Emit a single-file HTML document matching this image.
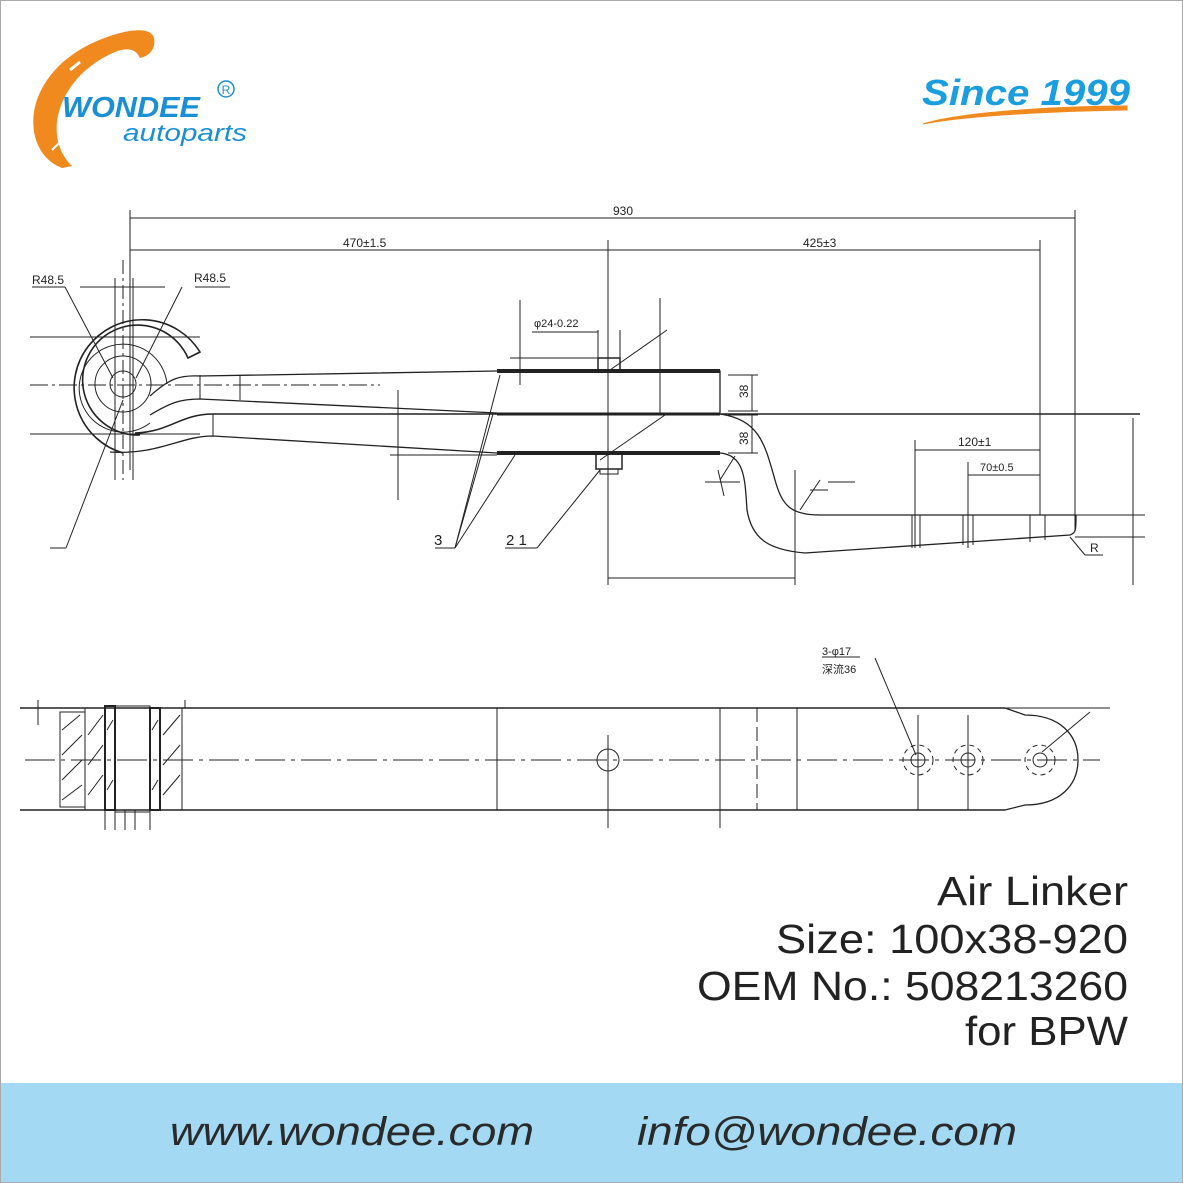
<!DOCTYPE html>
<html><head><meta charset="utf-8"><style>
html,body{margin:0;padding:0;background:#fff}
svg{display:block}
</style></head><body>
<svg width="1183" height="1183" viewBox="0 0 1183 1183" xmlns="http://www.w3.org/2000/svg" font-family="Liberation Sans, sans-serif">
<rect x="0.5" y="0.5" width="1182" height="1182" fill="#fff" stroke="#aaa"/>
<rect x="1" y="1083" width="1181" height="99" fill="#a3d9f3"/>
<!-- logo -->
<g>
<path d="M62,168 C15,150 20,60 120,33 C140,28 152,30 154,38 C156,48 150,56 140,58 C135,47 125,48 115,52 C60,75 40,135 72,166 Z" fill="#f08a1e"/>
<path d="M70,70 L80,62" stroke="#fff" stroke-width="3"/>
<path d="M52,150 L62,140" stroke="#fff" stroke-width="2"/>
<text x="62" y="117" font-size="29" font-weight="bold" font-style="italic" fill="#1b8fd6" textLength="138" lengthAdjust="spacingAndGlyphs">WONDEE</text>
<text x="123" y="141" font-size="24" font-style="italic" fill="#1b8fd6" textLength="124" lengthAdjust="spacingAndGlyphs">autoparts</text>
<circle cx="226" cy="89" r="8" fill="none" stroke="#1b8fd6" stroke-width="1.5"/>
<text x="226" y="94" font-size="12" fill="#1b8fd6" text-anchor="middle">R</text>
</g>
<text x="922" y="105" font-size="36" font-weight="bold" font-style="italic" fill="#1a9ee0" textLength="208" lengthAdjust="spacingAndGlyphs">Since 1999</text>
<path d="M923,124 C960,112 1060,106 1127,106 L1127,110 C1060,111 970,115 923,124 Z" fill="#f08a1e" stroke="#f08a1e" stroke-width="1"/>

<g stroke="#222" fill="none" stroke-width="1">
<line x1="130" y1="218" x2="1075" y2="218"/>
<line x1="130" y1="250" x2="1040" y2="250"/>
<line x1="130" y1="210" x2="130" y2="470"/>
<line x1="1075" y1="210" x2="1075" y2="530"/>
<line x1="1040" y1="240" x2="1040" y2="515"/>
<line x1="608" y1="240" x2="608" y2="585"/>
<line x1="608" y1="578" x2="795" y2="578"/>
<line x1="795" y1="470" x2="795" y2="585"/>
<line x1="660" y1="298" x2="660" y2="413"/>
<line x1="1133" y1="418" x2="1133" y2="585"/>
<line x1="1075" y1="515" x2="1145" y2="515"/>
<line x1="1075" y1="537" x2="1145" y2="537"/>
<line x1="915" y1="440" x2="915" y2="548"/>
<line x1="915" y1="450" x2="1040" y2="450"/>
<line x1="968" y1="462" x2="968" y2="548"/>
<line x1="968" y1="475" x2="1040" y2="475"/>
<line x1="728" y1="375" x2="758" y2="375"/><line x1="728" y1="411" x2="758" y2="411"/><line x1="752" y1="375" x2="752" y2="411"/>
<line x1="728" y1="415" x2="758" y2="415"/><line x1="728" y1="453" x2="758" y2="453"/><line x1="752" y1="415" x2="752" y2="453"/>
<circle cx="123" cy="384" r="13"/>
<circle cx="123" cy="384" r="28"/>
<path d="M150,423 A44,44 0 1 1 167,384" />
<path d="M140,435 A55,55 0 1 1 188,358 L200,352 A68,68 0 1 0 123,453" stroke-width="1.6"/>
<line x1="115" y1="278" x2="115" y2="480"/><line x1="123" y1="260" x2="123" y2="480" stroke-dasharray="14,4,3,4"/><line x1="133" y1="278" x2="133" y2="480"/>
<line x1="80" y1="287" x2="165" y2="287"/>
<line x1="30" y1="337" x2="200" y2="337"/>
<line x1="30" y1="385" x2="380" y2="385" stroke-dasharray="18,4,3,4"/>
<line x1="30" y1="434" x2="200" y2="434"/>
<line x1="32" y1="287" x2="65" y2="287"/><line x1="65" y1="287" x2="113" y2="378"/>
<line x1="195" y1="287" x2="230" y2="287"/><line x1="182" y1="287" x2="136" y2="378"/>
<line x1="50" y1="548" x2="66" y2="548"/><line x1="66" y1="548" x2="123" y2="400"/>
<path d="M150,396 C170,378 180,375 200,376 L497,371 L720,371 L720,413" stroke-width="1.3"/>
<path d="M150,415 C170,403 180,399 200,399 L497,413" stroke-width="1.3"/>
<path d="M200,375 L200,399 M213,414 L213,436"/>
<path d="M135,433 C170,432 180,414 213,414 L1140,414" stroke-width="1.5"/>
<path d="M110,452 C160,455 180,436 213,436 L497,453 L720,453 C745,455 745,480 747,510 C752,540 770,550 805,553 L1070,535 C1076,533 1076,530 1076,515" stroke-width="1.3"/>
<path d="M720,414 C760,420 765,445 775,480 C782,505 790,515 820,515 L1076,515" stroke-width="1.3"/>
<line x1="497" y1="371" x2="720" y2="371" stroke-width="4"/>
<line x1="497" y1="453" x2="720" y2="453" stroke-width="4"/>
<line x1="497" y1="414" x2="720" y2="414" stroke-width="3"/>
<rect x="598" y="358" width="22" height="13" stroke-width="1.5"/>
<rect x="596" y="454" width="26" height="15" stroke-width="1.5"/><rect x="600" y="469" width="18" height="5"/>
<line x1="598" y1="330" x2="598" y2="358"/><line x1="620" y1="330" x2="620" y2="358"/>
<line x1="520" y1="300" x2="520" y2="385"/>
<line x1="510" y1="358" x2="598" y2="358"/>
<line x1="532" y1="332" x2="598" y2="332"/>
<line x1="398" y1="390" x2="398" y2="500"/>
<line x1="390" y1="455" x2="497" y2="455"/>
<line x1="240" y1="375" x2="240" y2="400"/>
<line x1="610" y1="370" x2="667" y2="330"/><line x1="600" y1="460" x2="665" y2="415"/>
<line x1="435" y1="548" x2="455" y2="548"/><line x1="455" y1="548" x2="500" y2="375"/><line x1="455" y1="548" x2="493" y2="414"/><line x1="455" y1="548" x2="515" y2="455"/>
<line x1="505" y1="548" x2="537" y2="548"/><line x1="537" y1="548" x2="600" y2="470"/>
<line x1="705" y1="482" x2="740" y2="482"/><line x1="718" y1="470" x2="724" y2="496"/><line x1="720" y1="480" x2="735" y2="456"/>
<line x1="810" y1="490" x2="828" y2="490"/><line x1="828" y1="482" x2="855" y2="482"/><line x1="820" y1="480" x2="800" y2="510"/>
<line x1="1070" y1="537" x2="1085" y2="555"/><line x1="1085" y1="555" x2="1103" y2="555"/>
<path d="M912,515 V548 M920,515 V548 M963,515 V545 M973,515 V545 M1030,515 V542 M1045,515 V540"/>
<line x1="20" y1="708" x2="1005" y2="708" stroke-width="1.5"/>
<line x1="20" y1="810" x2="1005" y2="810" stroke-width="1.5"/>
<line x1="1005" y1="708" x2="1110" y2="708"/>
<path d="M1005,708 L1025,715 C1060,715 1078,735 1078,760 C1078,785 1060,805 1025,805 L1005,810" stroke-width="1.3"/>
<line x1="25" y1="760" x2="1100" y2="760" stroke-dasharray="30,6,4,6"/>
<rect x="60" y="712" width="25" height="95"/>
<rect x="85" y="708" width="20" height="102"/>
<rect x="105" y="706" width="10" height="104" stroke-width="2"/>
<rect x="115" y="706" width="35" height="106"/>
<rect x="150" y="708" width="10" height="102" stroke-width="2"/>
<rect x="160" y="708" width="22" height="102"/>
<path d="M62,730 L80,715 M62,755 L82,735 M62,780 L82,760 M62,800 L82,785 M88,735 L103,715 M88,765 L103,745 M88,795 L103,775 M163,735 L180,715 M163,765 L180,745 M163,795 L180,775 M107,730 L113,720 M152,730 L158,720 M107,790 L113,780 M152,790 L158,780"/>
<path d="M105,810 V830 M115,810 V830 M125,810 V830 M135,810 V830 M150,810 V830 M38,700 V725 M185,700 V708"/>
<line x1="497" y1="708" x2="497" y2="810"/>
<line x1="720" y1="708" x2="720" y2="828"/>
<line x1="757" y1="708" x2="757" y2="810" stroke-dasharray="14,5"/>
<line x1="797" y1="708" x2="797" y2="810"/>
<circle cx="608" cy="760" r="11"/><line x1="608" y1="735" x2="608" y2="828"/>
<circle cx="918" cy="760" r="7"/><circle cx="918" cy="760" r="15" stroke-dasharray="5,4"/>
<circle cx="968" cy="760" r="7"/><circle cx="968" cy="760" r="15" stroke-dasharray="5,4"/>
<circle cx="1040" cy="760" r="7"/><circle cx="1040" cy="760" r="15" stroke-dasharray="5,4"/>
<line x1="918" y1="715" x2="918" y2="810"/><line x1="968" y1="715" x2="968" y2="810"/>
<line x1="822" y1="657" x2="860" y2="657"/><line x1="875" y1="658" x2="916" y2="755"/>
<line x1="1042" y1="752" x2="1090" y2="712"/>
</g>
<g fill="#222" font-size="12">
<text x="613" y="215">930</text>
<text x="343" y="247">470±1.5</text>
<text x="803" y="247">425±3</text>
<text x="32" y="284">R48.5</text>
<text x="194" y="282">R48.5</text>
<text x="534" y="327" font-size="11">φ24-0.22</text>
<text x="958" y="446">120±1</text>
<text x="980" y="471" font-size="11">70±0.5</text>
<text x="1090" y="552">R</text>
<text x="434" y="545" font-size="15">3</text>
<text x="506" y="545" font-size="15">2 1</text>
<text x="822" y="655" font-size="11">3-φ17</text>
<text x="822" y="673" font-size="11">深流36</text>
<text transform="translate(748,398) rotate(-90)" font-size="12">38</text>
<text transform="translate(748,445) rotate(-90)" font-size="12">38</text>
</g>
<g fill="#222" font-size="41">
<text x="937" y="905" textLength="191" lengthAdjust="spacingAndGlyphs">Air Linker</text>
<text x="776" y="953" textLength="352" lengthAdjust="spacingAndGlyphs">Size: 100x38-920</text>
<text x="697" y="1000" textLength="431" lengthAdjust="spacingAndGlyphs">OEM No.: 508213260</text>
<text x="965" y="1045" textLength="163" lengthAdjust="spacingAndGlyphs">for BPW</text>
</g>
<g fill="#2a2a2a" font-size="40" font-style="italic">
<text x="170" y="1145" textLength="364" lengthAdjust="spacingAndGlyphs">www.wondee.com</text>
<text x="637" y="1145" textLength="380" lengthAdjust="spacingAndGlyphs">info@wondee.com</text>
</g>
</svg>
</body></html>
